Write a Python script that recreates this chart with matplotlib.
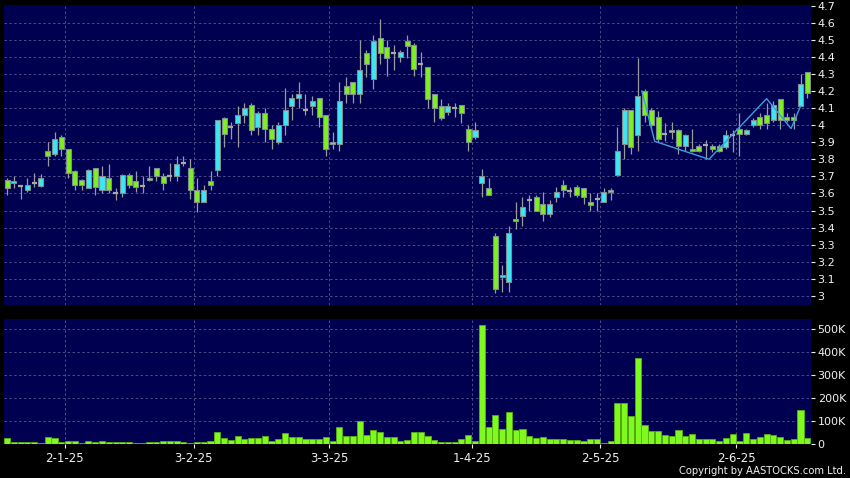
import matplotlib

matplotlib.use("Agg")
import matplotlib.pyplot as plt
from matplotlib.ticker import FuncFormatter

# daily candles, index 0 = first trading day shown
opens = [
    3.68, 3.66, 3.645, 3.62, 3.66, 3.645, 3.85, 3.83, 3.93, 3.86,
    3.73, 3.68, 3.63, 3.75, 3.62, 3.69, 3.60, 3.60, 3.71, 3.67,
    3.645, 3.68, 3.75, 3.70, 3.705, 3.70, 3.78, 3.75, 3.62, 3.55,
    3.67, 3.74, 4.04, 3.99, 4.01, 4.06, 4.12, 3.99, 4.07, 3.98,
    3.90, 4.00, 4.11, 4.16, 4.09, 4.11, 4.16, 4.06, 3.89, 3.89,
    4.23, 4.25, 4.18, 4.42, 4.27, 4.51, 4.46, 4.42, 4.40, 4.49,
    4.47, 4.36, 4.34, 4.18, 4.11, 4.075, 4.10, 4.12, 3.98, 3.93,
    3.66, 3.63, 3.35, 3.11, 3.08, 3.45, 3.47, 3.56, 3.58, 3.54,
    3.48, 3.58, 3.65, 3.615, 3.64, 3.63, 3.55, 3.57, 3.55, 3.61,
    3.71, 3.89, 4.09, 3.94, 4.20, 4.09, 4.05, 3.945, 3.97, 3.97,
    3.88, 3.86, 3.88, 3.885, 3.88, 3.88, 3.87, 3.94, 3.98, 3.945,
    4.00, 4.05, 4.06, 4.03, 4.15, 4.05, 4.05, 4.11, 4.31,
]
highs = [
    3.69, 3.70, 3.65, 3.69, 3.72, 3.715, 3.90, 3.96, 3.94, 3.86,
    3.74, 3.685, 3.745, 3.75, 3.76, 3.77, 3.63, 3.715, 3.72, 3.73,
    3.70, 3.76, 3.75, 3.72, 3.78, 3.82, 3.82, 3.80, 3.69, 3.65,
    3.73, 4.03, 4.05, 4.02, 4.11, 4.13, 4.13, 4.08, 4.10, 4.00,
    4.02, 4.22, 4.18, 4.25, 4.18, 4.17, 4.16, 4.06, 3.96, 4.25,
    4.28, 4.25, 4.50, 4.44, 4.53, 4.62, 4.50, 4.47, 4.44, 4.53,
    4.48, 4.43, 4.34, 4.18, 4.155, 4.13, 4.13, 4.12, 4.00, 4.02,
    3.745, 3.69, 3.37, 3.18, 3.41, 3.55, 3.58, 3.59, 3.59, 3.61,
    3.56, 3.64, 3.68, 3.64, 3.65, 3.63, 3.60, 3.60, 3.63, 3.63,
    3.99, 4.10, 4.09, 4.39, 4.21, 4.10, 4.08, 4.015, 4.02, 3.98,
    3.95, 3.98, 3.89, 3.915, 3.89, 3.89, 3.97, 3.97, 4.07, 3.98,
    4.04, 4.07, 4.13, 4.14, 4.15, 4.07, 4.07, 4.30, 4.31,
]
lows = [
    3.59, 3.63, 3.57, 3.61, 3.64, 3.64, 3.76, 3.82, 3.82, 3.69,
    3.62, 3.62, 3.63, 3.59, 3.60, 3.60, 3.56, 3.58, 3.63, 3.61,
    3.60, 3.67, 3.67, 3.62, 3.67, 3.67, 3.76, 3.57, 3.49, 3.55,
    3.62, 3.70, 3.87, 3.92, 3.87, 4.01, 3.94, 3.94, 3.90, 3.86,
    3.89, 3.94, 4.03, 4.10, 4.06, 4.06, 3.99, 3.82, 3.86, 3.85,
    4.13, 4.13, 4.13, 4.28, 4.21, 4.355, 4.29, 4.325, 4.37, 4.39,
    4.29, 4.28, 4.10, 4.02, 4.03, 4.06, 4.05, 4.01, 3.85, 3.92,
    3.58, 3.59, 3.02, 3.025, 3.025, 3.39, 3.41, 3.50, 3.50, 3.44,
    3.46, 3.55, 3.58, 3.58, 3.58, 3.54, 3.50, 3.50, 3.55, 3.56,
    3.70, 3.80, 3.83, 3.85, 4.02, 3.98, 3.90, 3.905, 3.92, 3.83,
    3.85, 3.845, 3.84, 3.80, 3.84, 3.84, 3.86, 3.84, 3.82, 3.94,
    3.99, 3.98, 3.98, 4.02, 3.98, 4.02, 3.98, 4.11, 4.16,
]
closes = [
    3.63, 3.67, 3.645, 3.65, 3.66, 3.69, 3.82, 3.92, 3.86, 3.72,
    3.65, 3.65, 3.74, 3.64, 3.70, 3.62, 3.60, 3.71, 3.65, 3.64,
    3.645, 3.69, 3.70, 3.66, 3.705, 3.77, 3.78, 3.62, 3.55, 3.62,
    3.65, 4.03, 3.95, 3.99, 4.06, 4.10, 3.97, 4.07, 3.98, 3.92,
    4.00, 4.09, 4.16, 4.18, 4.09, 4.14, 4.05, 3.86, 3.90, 4.14,
    4.18, 4.18, 4.32, 4.36, 4.49, 4.42, 4.39, 4.42, 4.43, 4.465,
    4.33, 4.36, 4.15, 4.10, 4.04, 4.11, 4.10, 4.07, 3.90, 3.97,
    3.70, 3.59, 3.04, 3.12, 3.37, 3.44, 3.52, 3.56, 3.50, 3.48,
    3.54, 3.61, 3.62, 3.615, 3.59, 3.58, 3.535, 3.57, 3.61, 3.62,
    3.85, 4.09, 3.87, 4.17, 4.06, 4.00, 3.92, 3.945, 3.96, 3.88,
    3.94, 3.85, 3.85, 3.885, 3.86, 3.85, 3.94, 3.94, 3.95, 3.97,
    4.03, 4.00, 4.01, 4.12, 4.03, 4.03, 4.03, 4.24, 4.185,
]
volumes_k = [
    26, 7, 7, 10, 7, 3, 31, 28, 9, 15,
    15, 4, 15, 9, 12, 10, 7, 10, 10, 6,
    6, 10, 9, 12, 15, 15, 10, 4, 7, 7,
    13, 51, 26, 18, 34, 23, 28, 28, 37, 15,
    22, 48, 31, 31, 22, 23, 23, 32, 12, 76,
    37, 34, 101, 39, 63, 54, 32, 29, 15, 19,
    51, 51, 34, 19, 10, 10, 9, 22, 38, 15,
    519, 72, 127, 64, 140, 61, 66, 34, 28, 29,
    20, 20, 22, 19, 19, 12, 20, 22, 4, 15,
    178, 178, 120, 374, 82, 56, 58, 38, 37, 63,
    37, 44, 23, 23, 20, 15, 28, 44, 12, 47,
    22, 29, 45, 39, 32, 18, 20, 149, 28,
]

# month boundaries (last candle before the labelled date)
date_idx = [8, 27, 47, 68, 87, 107]
date_labels = ["2-1-25", "3-2-25", "3-3-25", "1-4-25", "2-5-25", "2-6-25"]

# pattern line drawn over the candles
zigzag_x = [93.6, 95.5, 103.5, 112.0, 115.6, 117.0]
zigzag_y = [4.20, 3.905, 3.80, 4.155, 3.98, 4.11]

price_ticks = [round(3.0 + 0.1 * k, 1) for k in range(18)]
vol_ticks = [0, 100, 200, 300, 400, 500]

BG = "#000050"
GRID = "#4c4c88"
UP = "#3ee6f4"
DOWN = "#7ef01e"
FLAT = "#a8a8a8"
WICK = "#9a9a9a"
EDGE = "#7d8f8f"
TXT = "#f0f0f0"

fig = plt.figure(figsize=(8.5, 4.78), dpi=100, facecolor="black")
ax = fig.add_axes([4 / 850, 173 / 478, 806.7 / 850, 300 / 478], facecolor=BG)
axv = fig.add_axes([4 / 850, 34 / 478, 806.7 / 850, 125 / 478], facecolor=BG, sharex=ax)

n = len(closes)
xs = list(range(n))
grid_x = [d + 0.5 for d in date_idx]

for a in (ax, axv):
    for s in a.spines.values():
        s.set_visible(False)
    for gx in grid_x:
        a.axvline(gx, color=GRID, lw=0.7, ls=(0, (2.5, 2.5)), zorder=0)

for p in price_ticks[:-1]:
    ax.axhline(p, color=GRID, lw=0.7, ls=(0, (2.5, 2.5)), zorder=0)
for v in vol_ticks[1:]:
    axv.axhline(v * 1000, color=GRID, lw=0.7, ls=(0, (2.5, 2.5)), zorder=0)

# wicks
ax.vlines(xs, lows, highs, color=WICK, lw=0.9, zorder=2)

# bodies
width = 0.74
for i in xs:
    o, c = opens[i], closes[i]
    if abs(c - o) < 0.004:
        ax.hlines((o + c) / 2, i - width / 2, i + width / 2, color=FLAT, lw=1.6, zorder=3)
        continue
    col = UP if c > o else DOWN
    ax.bar(i, abs(c - o), bottom=min(o, c), width=width, color=col,
           edgecolor=EDGE, linewidth=0.8, zorder=3)

ax.plot(zigzag_x, zigzag_y, color="#3a9ee0", lw=1.0, zorder=4)

axv.bar(xs, [v * 1000 for v in volumes_k], width=0.9, color="#80fa1e",
        edgecolor="#56b012", linewidth=0.6, zorder=3)

ax.set_xlim(-0.45, 118.5)
ax.set_ylim(2.947, 4.703)
axv.set_ylim(0, 545000)

ax.yaxis.tick_right()
ax.set_yticks(price_ticks)
ax.set_yticklabels([f"{p:g}" for p in price_ticks])
axv.yaxis.tick_right()
axv.set_yticks([v * 1000 for v in vol_ticks])
axv.yaxis.set_major_formatter(FuncFormatter(lambda v, _: "0" if v == 0 else f"{int(v / 1000)}K"))

ax.tick_params(axis="x", bottom=False, labelbottom=False)
for a in (ax, axv):
    a.tick_params(axis="y", colors=TXT, length=3, width=0.8, pad=2, labelsize=8)

axv.set_xticks(grid_x)
axv.set_xticklabels(date_labels)
axv.tick_params(axis="x", colors=TXT, length=3, width=0.8, pad=3, labelsize=8.5)

fig.text(846 / 850, 7 / 478, "Copyright by AASTOCKS.com Ltd.", color=TXT,
         fontsize=7.2, ha="right", va="center")

fig.savefig("out.png", dpi=100, facecolor="black")
plt.close(fig)
